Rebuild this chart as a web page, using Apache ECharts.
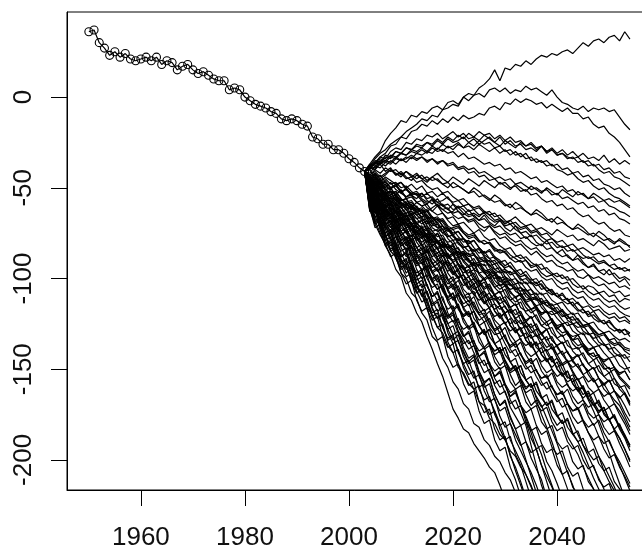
<!DOCTYPE html>
<html><head><meta charset="utf-8">
<script src="https://cdn.jsdelivr.net/npm/echarts@6/dist/echarts.min.js"></script>
<style>html,body{margin:0;padding:0;background:#fff}#c{width:642px;height:554px}</style>
</head><body><div id="c"></div>
<script>
// ---------- observed series (1950..2003) ----------
const histStartYear = 1950;
const histValues = [36,37,30,27,23,25,22,24,21,20, 21,22,20,22,18,20,19,15,17,18,
  15,13,14,12,10,9,9,4,5,4, 0,-2,-4,-5,-6,-8,-9,-12,-13,-12,
  -13,-15,-16,-22,-23,-26,-26,-29,-29,-31, -34,-36,-39,-41];

// ---------- simulated paths, yearly from 2003 ----------
const simStartYear = 2003;
const pathU1 = [-41,-37,-33,-30,-24,-20,-17,-13,-14,-10, -11,-8,-9,-6,-5,-7,-3,-2,-4,0, 2,1,5,7,10,15,9,16,15,18, 17,20,18,21,23,22,24,23,25,26, 24,27,30,28,31,32,30,33,34,31, 36,32];
const pathU2 = [-41,-38,-34,-31,-29,-26,-24,-22,-19,-17, -15,-12,-13,-10,-11,-7,-6,-4,-5,0, -2,1,2,0,4,5,3,5,2,4, 3,6,4,5,3,1,4,0,-3,-4, -6,-7,-5,-8,-6,-7,-6,-8,-7,-11, -15,-18];
const pathU3 = [-41,-39,-36,-33,-31,-27,-26,-22,-23,-19, -18,-15,-16,-13,-15,-12,-14,-11,-13,-10, -12,-11,-9,-10,-6,-5,-7,-3,-4,-1, -3,-1,-2,-4,-3,-6,-4,-6,-8,-6, -9,-9,-12,-11,-15,-17,-16,-20,-22,-25, -29,-33];
const pathU4 = [-41,-38,-37,-33,-34,-30,-28,-29,-25,-26, -23,-24,-21,-22,-20,-23,-21,-19,-22,-20, -23,-22,-24,-21,-23,-25,-22,-26,-24,-27, -26,-29,-28,-30,-27,-31,-29,-32,-31,-34, -33,-36,-35,-38,-37,-40,-42,-41,-44,-45, -47,-49];
const pathH1 = [-41,-40,-36,-37,-33,-34,-30,-31,-28,-29, -26,-27,-25,-27,-24,-26,-23,-25,-24,-22, -25,-23,-26,-24,-22,-25,-27,-24,-26,-28, -25,-27,-26,-29,-27,-30,-28,-31,-29,-32, -30,-33,-31,-34,-33,-35,-32,-36,-34,-37, -35,-37];
const pathH2 = [-41,-38,-39,-35,-36,-33,-34,-31,-32,-29, -30,-28,-30,-27,-29,-26,-28,-27,-25,-28, -27,-29,-26,-28,-30,-28,-31,-29,-32,-30, -33,-31,-35,-34,-36,-35,-38,-37,-40,-39, -42,-41,-44,-43,-46,-45,-48,-49,-51,-50, -53,-55];
const pathH3 = [-41,-42,-38,-39,-36,-37,-34,-35,-33,-34, -31,-32,-30,-31,-28,-30,-27,-29,-26,-28, -25,-27,-24,-26,-25,-28,-27,-30,-29,-32, -31,-34,-33,-36,-35,-38,-37,-40,-41,-43, -42,-45,-47,-46,-49,-51,-50,-53,-55,-56, -58,-60];
const pathH4 = [-41,-37,-38,-34,-35,-32,-33,-31,-32,-30, -31,-29,-31,-28,-30,-29,-31,-30,-33,-31, -34,-33,-35,-37,-36,-38,-37,-40,-39,-42, -41,-43,-45,-44,-47,-46,-48,-50,-49,-52, -51,-54,-53,-56,-55,-58,-57,-60,-61,-63, -64,-66];
const pathH5 = [-41,-39,-36,-37,-35,-36,-33,-35,-34,-32, -34,-33,-35,-34,-36,-35,-37,-36,-39,-38, -40,-39,-42,-41,-43,-45,-44,-46,-45,-48, -47,-49,-51,-50,-52,-51,-54,-53,-56,-55, -57,-59,-58,-61,-60,-63,-62,-65,-64,-67, -68,-70];
const pathH6 = [-41,-38,-35,-36,-32,-33,-30,-31,-28,-29, -27,-28,-25,-26,-23,-25,-22,-24,-21,-23, -20,-22,-19,-21,-20,-23,-21,-24,-22,-25, -24,-27,-25,-28,-27,-30,-29,-32,-31,-33, -34,-33,-36,-35,-38,-37,-40,-39,-42,-41, -44,-45];
const pathM1 = [-41,-39,-40,-36,-38,-35,-37,-34,-36,-33, -35,-33,-36,-34,-37,-35,-38,-37,-40,-39, -42,-41,-44,-43,-46,-45,-48,-47,-50,-49, -52,-51,-54,-53,-56,-58,-57,-60,-59,-62, -61,-64,-66,-65,-68,-70,-69,-72,-74,-73, -76,-77];
const pathM2 = [-41,-43,-40,-42,-39,-41,-40,-43,-41,-44, -42,-45,-44,-46,-45,-48,-47,-50,-49,-51, -53,-52,-55,-54,-56,-58,-57,-60,-59,-62, -61,-63,-65,-64,-66,-68,-67,-70,-69,-71, -73,-72,-74,-76,-75,-77,-79,-78,-80,-79, -81,-82];
const pathM3 = [-41,-45,-43,-47,-44,-46,-48,-47,-50,-48, -51,-49,-53,-52,-55,-53,-56,-58,-57,-60, -59,-62,-61,-64,-63,-66,-65,-68,-70,-69, -72,-71,-74,-73,-76,-75,-78,-80,-79,-82, -81,-84,-83,-85,-87,-86,-88,-87,-90,-89, -91,-89];
const pathM4 = [-41,-38,-40,-37,-41,-39,-43,-42,-45,-44, -47,-46,-49,-51,-50,-53,-52,-55,-57,-56, -59,-61,-60,-63,-65,-64,-67,-69,-68,-71, -73,-72,-75,-74,-77,-79,-78,-81,-83,-82, -85,-84,-87,-89,-88,-91,-90,-93,-92,-95, -94,-96];
const pathM5 = [-41,-44,-42,-46,-45,-48,-47,-50,-49,-52, -54,-53,-56,-55,-58,-60,-59,-62,-61,-64, -66,-65,-68,-67,-70,-72,-71,-74,-76,-75, -78,-77,-80,-82,-81,-84,-83,-86,-88,-87, -90,-89,-92,-94,-93,-96,-95,-98,-97,-100, -99,-101];
const pathM6 = [-41,-46,-44,-48,-47,-50,-49,-52,-51,-54, -53,-56,-58,-57,-60,-59,-62,-64,-63,-66, -68,-67,-70,-72,-71,-74,-76,-75,-78,-80, -79,-82,-84,-83,-86,-88,-87,-90,-92,-91, -94,-96,-95,-98,-100,-99,-101,-103,-102,-105, -104,-106];
const pathM7 = [-41,-43,-47,-45,-49,-51,-48,-52,-55,-53, -54,-57,-59,-56,-60,-62,-61,-65,-67,-66, -69,-68,-72,-74,-71,-75,-78,-77,-80,-82, -81,-84,-87,-85,-88,-91,-90,-93,-94,-96, -95,-99,-100,-98,-102,-104,-103,-106,-108,-107, -110,-109];
const pathM8 = [-41,-47,-45,-50,-48,-52,-54,-51,-56,-55, -58,-57,-61,-63,-60,-64,-67,-66,-70,-69, -72,-75,-73,-77,-79,-78,-82,-84,-83,-87, -89,-88,-91,-93,-92,-96,-98,-97,-100,-99, -103,-105,-104,-107,-109,-108,-111,-113,-112,-115, -117,-116];
const pathM9 = [-41,-44,-48,-46,-51,-53,-52,-56,-58,-57, -61,-63,-62,-66,-68,-67,-71,-73,-72,-75, -77,-76,-79,-81,-80,-83,-85,-84,-87,-89, -91,-90,-94,-93,-97,-99,-98,-101,-103,-102, -106,-108,-107,-110,-112,-111,-114,-116,-115,-118, -120,-121];
const pathM10 = [-41,-40,-45,-43,-47,-50,-48,-53,-55,-54, -58,-60,-59,-63,-65,-64,-68,-71,-70,-74, -76,-75,-79,-81,-80,-84,-86,-85,-89,-91, -90,-94,-96,-95,-99,-101,-100,-104,-106,-105, -109,-111,-110,-114,-116,-115,-118,-120,-119,-122, -121,-124];
const pathM11 = [-41,-46,-49,-47,-51,-54,-52,-56,-59,-58, -61,-64,-63,-67,-69,-68,-72,-75,-74,-78, -80,-79,-83,-86,-85,-89,-91,-90,-94,-96, -95,-99,-101,-100,-104,-107,-106,-110,-112,-111, -115,-118,-117,-121,-120,-123,-125,-124,-127,-129, -128,-130];
const pathM12 = [-41,-45,-43,-48,-51,-50,-54,-57,-56,-60, -62,-61,-65,-68,-67,-71,-74,-73,-77,-80, -79,-83,-86,-85,-89,-92,-91,-95,-97,-96, -100,-103,-102,-106,-109,-108,-112,-114,-113,-117, -120,-119,-123,-125,-124,-128,-130,-129,-132,-134, -133,-135];
const pathM13 = [-41,-48,-46,-51,-53,-52,-57,-59,-58,-62, -60,-64,-67,-66,-70,-73,-72,-76,-79,-78, -82,-85,-84,-88,-91,-90,-94,-97,-96,-100, -103,-102,-106,-109,-108,-112,-115,-114,-118,-120, -119,-123,-126,-125,-129,-131,-130,-134,-136,-135, -138,-139];
const pathM14 = [-41,-44,-49,-47,-52,-55,-54,-58,-60,-59, -63,-66,-65,-70,-72,-71,-76,-79,-78,-82, -85,-84,-88,-91,-90,-95,-97,-96,-100,-103, -102,-106,-109,-108,-113,-115,-114,-118,-121,-120, -125,-127,-126,-130,-133,-132,-136,-139,-138,-141, -144,-143];
const pathM15 = [-41,-47,-45,-50,-53,-52,-57,-59,-58,-63, -65,-64,-69,-71,-70,-75,-77,-76,-81,-83, -82,-87,-89,-88,-93,-95,-94,-99,-101,-100, -105,-107,-106,-111,-113,-112,-117,-119,-118,-123, -125,-124,-129,-131,-130,-135,-137,-136,-141,-143, -142,-146];
const pathM16 = [-41,-45,-50,-48,-54,-56,-55,-59,-62,-61, -65,-68,-67,-72,-74,-73,-78,-81,-80,-84, -87,-86,-91,-93,-92,-97,-100,-99,-103,-106, -105,-110,-112,-111,-116,-119,-118,-122,-125,-124, -129,-131,-130,-135,-138,-137,-141,-144,-143,-148, -150,-149];
const pathM17 = [-41,-49,-47,-52,-55,-54,-59,-61,-60,-65, -67,-66,-71,-74,-73,-78,-80,-79,-84,-87, -86,-91,-93,-92,-97,-100,-99,-104,-106,-105, -110,-113,-112,-117,-119,-118,-123,-126,-125,-130, -132,-131,-136,-139,-138,-143,-145,-144,-149,-152, -151,-156];
const pathM18 = [-41,-46,-51,-49,-55,-58,-56,-61,-64,-63, -67,-70,-68,-74,-77,-76,-81,-84,-83,-88, -91,-89,-94,-97,-96,-101,-104,-103,-108,-110, -109,-114,-117,-116,-121,-124,-122,-127,-130,-129, -134,-137,-136,-141,-143,-142,-147,-150,-149,-154, -157,-160];
const pathM19 = [-41,-50,-48,-54,-57,-55,-61,-63,-62,-67, -69,-68,-73,-77,-75,-81,-84,-82,-88,-90, -89,-95,-97,-96,-101,-105,-103,-109,-112,-110, -116,-118,-117,-122,-126,-124,-130,-133,-131,-137, -139,-138,-143,-147,-145,-151,-154,-152,-158,-160, -159,-165];
const pathM20 = [-41,-47,-52,-50,-56,-59,-57,-63,-66,-64, -70,-72,-71,-76,-80,-78,-84,-86,-85,-91, -94,-92,-98,-101,-99,-105,-108,-106,-112,-115, -113,-119,-122,-120,-126,-128,-127,-133,-136,-134, -140,-143,-141,-147,-150,-148,-154,-157,-155,-161, -164,-170];
const pathM21 = [-41,-51,-49,-55,-58,-57,-63,-65,-64,-70, -72,-71,-77,-80,-79,-85,-88,-86,-92,-95, -93,-99,-102,-100,-106,-109,-107,-113,-116,-114, -120,-123,-121,-127,-130,-128,-134,-137,-135,-141, -144,-142,-148,-151,-149,-155,-158,-156,-162,-165, -170,-176];
const pathM22 = [-41,-48,-54,-52,-58,-61,-59,-65,-68,-66, -72,-75,-73,-79,-83,-81,-87,-90,-88,-94, -97,-95,-101,-105,-103,-109,-112,-110,-116,-120, -118,-124,-127,-125,-131,-134,-132,-138,-142,-140, -146,-149,-147,-153,-157,-155,-161,-164,-162,-168, -174,-179];
const pathM23 = [-41,-52,-50,-56,-60,-58,-64,-67,-65,-71, -74,-72,-78,-82,-80,-86,-89,-87,-93,-97, -95,-101,-104,-102,-108,-112,-110,-116,-119,-117, -123,-127,-125,-131,-134,-132,-138,-142,-140,-146, -149,-147,-153,-157,-155,-161,-165,-163,-169,-173, -178,-184];
const pathM24 = [-41,-49,-55,-53,-59,-63,-61,-67,-71,-69, -75,-78,-76,-83,-86,-84,-90,-94,-92,-98, -102,-100,-106,-110,-108,-114,-117,-115,-121,-125, -123,-129,-133,-131,-137,-140,-138,-144,-148,-146, -152,-156,-154,-160,-163,-161,-167,-171,-169,-175, -180,-186];
const pathM25 = [-41,-53,-51,-58,-61,-59,-66,-69,-67,-73, -77,-75,-81,-85,-83,-90,-93,-91,-97,-101, -99,-105,-109,-107,-114,-117,-115,-121,-125,-123, -129,-133,-131,-138,-141,-139,-145,-149,-147,-154, -157,-155,-161,-165,-163,-170,-173,-171,-177,-181, -186,-192];
const pathM26 = [-41,-50,-56,-54,-61,-65,-62,-69,-72,-70, -77,-80,-78,-85,-88,-86,-93,-97,-95,-101, -105,-103,-109,-113,-111,-118,-121,-119,-126,-129, -127,-134,-137,-135,-142,-145,-143,-150,-153,-151, -158,-162,-160,-166,-170,-168,-175,-178,-176,-183, -188,-195];
const pathM27 = [-41,-54,-52,-59,-63,-61,-68,-71,-69,-75, -79,-77,-84,-88,-86,-92,-96,-94,-100,-104, -102,-109,-112,-110,-117,-121,-119,-125,-129,-127, -134,-137,-135,-142,-146,-144,-150,-154,-152,-159, -162,-160,-167,-171,-169,-175,-179,-177,-184,-188, -194,-200];
const pathM28 = [-41,-51,-58,-56,-63,-67,-65,-72,-75,-73, -80,-84,-82,-89,-92,-90,-97,-101,-99,-106, -109,-107,-114,-118,-116,-123,-126,-124,-131,-135, -133,-140,-143,-141,-148,-152,-150,-157,-160,-158, -165,-169,-167,-174,-177,-175,-182,-186,-184,-191, -197,-204];
const pathS1 = [-41,-55,-53,-61,-65,-63,-70,-74,-72,-79, -83,-81,-88,-92,-90,-97,-101,-99,-106,-110, -108,-115,-119,-117,-124,-128,-126,-133,-137,-135, -142,-146,-144,-151,-155,-153,-160,-164,-162,-169, -173,-171,-178,-182,-180,-187,-191,-189,-196,-201, -207,-213];
const pathS2 = [-41,-52,-59,-57,-64,-69,-66,-74,-78,-76, -83,-87,-85,-92,-96,-94,-101,-106,-104,-111, -115,-113,-120,-124,-122,-129,-134,-131,-139,-143, -141,-148,-152,-150,-157,-161,-159,-166,-171,-169, -176,-180,-178,-185,-189,-187,-194,-199,-197,-204, -209,-215];
const pathS3 = [-41,-56,-54,-62,-67,-64,-72,-76,-74,-82, -86,-84,-92,-96,-94,-102,-106,-104,-112,-116, -114,-122,-126,-124,-132,-136,-134,-142,-146,-144, -152,-156,-154,-162,-166,-164,-172,-176,-174,-182, -186,-184,-192,-196,-194,-202,-206,-204,-212,-216, -221];
const pathS4 = [-41,-53,-60,-58,-66,-70,-68,-76,-80,-78, -86,-90,-88,-96,-100,-98,-106,-111,-108,-116, -120,-118,-126,-130,-128,-136,-140,-138,-146,-150, -148,-156,-160,-158,-166,-170,-168,-176,-180,-178, -186,-190,-188,-196,-200,-198,-206,-212,-217,-222];
const pathS5 = [-41,-57,-55,-64,-68,-66,-74,-79,-77,-85, -89,-87,-95,-100,-98,-106,-110,-108,-116,-121, -119,-127,-131,-129,-137,-142,-140,-148,-152,-150, -158,-163,-161,-169,-173,-171,-179,-184,-182,-190, -194,-192,-200,-205,-203,-211,-215,-213,-221];
const pathS6 = [-41,-54,-62,-60,-69,-74,-71,-80,-84,-82, -91,-95,-93,-102,-106,-104,-113,-118,-115,-124, -128,-126,-135,-139,-137,-146,-150,-148,-157,-161, -159,-168,-172,-170,-179,-183,-181,-190,-194,-192, -201,-205,-203,-212,-216,-222];
const pathS7 = [-41,-58,-56,-65,-70,-68,-77,-82,-80,-89, -93,-91,-100,-105,-103,-112,-117,-115,-124,-128, -126,-135,-140,-138,-147,-151,-149,-158,-163,-161, -170,-174,-172,-181,-186,-184,-193,-197,-195,-204, -209,-207,-216,-222];
const pathS8 = [-41,-55,-64,-62,-71,-76,-74,-83,-88,-86, -95,-100,-98,-107,-112,-110,-119,-124,-122,-131, -136,-134,-143,-148,-146,-155,-160,-158,-167,-172, -170,-179,-184,-182,-191,-196,-194,-203,-208,-206, -215,-219,-224];
const pathS9 = [-41,-60,-58,-67,-73,-71,-80,-85,-83,-92, -97,-95,-104,-110,-108,-117,-122,-120,-129,-134, -139,-137,-146,-152,-150,-159,-164,-162,-171,-176, -181,-179,-188,-194,-192,-201,-206,-213,-221];
const pathS10 = [-41,-56,-66,-64,-73,-79,-77,-86,-92,-90, -99,-105,-103,-112,-118,-116,-125,-131,-129,-138, -144,-142,-151,-157,-155,-164,-170,-168,-177,-183, -181,-190,-196,-194,-203,-209,-215,-222];
const pathS11 = [-41,-61,-59,-69,-75,-73,-82,-88,-86,-95, -101,-99,-109,-115,-113,-122,-128,-126,-135,-141, -147,-145,-154,-160,-158,-167,-173,-171,-180,-186, -192,-190,-199,-205,-211,-221];
const pathS12 = [-41,-58,-68,-66,-76,-82,-80,-89,-95,-93, -103,-109,-107,-117,-122,-120,-130,-136,-134,-143, -149,-155,-153,-162,-168,-166,-176,-182,-180,-189, -195,-201,-207,-214,-222];
const pathS13 = [-41,-62,-60,-71,-77,-75,-85,-91,-89,-99, -105,-103,-113,-119,-117,-127,-133,-131,-141,-147, -153,-151,-161,-167,-165,-175,-181,-179,-189,-195, -201,-208,-214,-222];
const pathS14 = [-41,-60,-70,-68,-79,-85,-83,-93,-99,-97, -107,-113,-111,-121,-127,-125,-135,-141,-139,-149, -155,-161,-159,-169,-175,-173,-183,-189,-187,-197, -203,-212,-221];
const pathS15 = [-41,-49,-56,-65,-71,-78,-83,-90,-93,-100, -105,-109,-116,-120,-127,-130,-137,-141,-149,-152, -158,-161,-168,-170,-177,-180,-186,-189,-195,-198, -204,-208,-215,-221];
const pathS16 = [-41,-51,-59,-69,-75,-85,-88,-97,-100,-108, -111,-119,-123,-132,-135,-144,-149,-157,-161,-169, -172,-180,-182,-189,-192,-198,-201,-207,-211,-218, -222];
const pathS17 = [-41,-53,-62,-73,-82,-87,-95,-99,-108,-112, -119,-124,-132,-139,-147,-154,-163,-172,-177,-183, -185,-191,-195,-199,-204,-207,-214,-222];
const pathS18 = [-41,-63,-62,-73,-79,-77,-88,-94,-92,-102, -108,-106,-117,-123,-121,-132,-138,-136,-147,-153, -159,-157,-168,-174,-172,-183,-189,-187,-198,-204, -212,-221];
const pathS19 = [-41,-61,-72,-70,-81,-88,-86,-97,-103,-101, -112,-118,-116,-127,-134,-132,-143,-149,-147,-158, -164,-162,-173,-180,-178,-189,-195,-193,-204,-211, -220];
const pathR1 = [-41,-47,-52,-50,-55,-58,-56,-60,-59,-61, -58,-60,-63,-61,-59,-62,-64,-63,-60,-62, -65,-64,-66,-63,-65,-68,-67,-70,-68,-66, -69,-71,-70,-73,-72,-74,-76,-73,-75,-77, -76,-79,-78,-80,-82,-79,-81,-84,-83,-82, -85,-84];
const pathR2 = [-41,-44,-46,-51,-54,-52,-53,-58,-61,-60, -62,-64,-63,-67,-66,-69,-73,-72,-71,-75, -78,-77,-80,-79,-81,-85,-84,-86,-89,-88, -87,-90,-93,-92,-95,-94,-97,-99,-98,-101, -100,-103,-106,-104,-105,-108,-107,-110,-109,-113, -111,-112];
const pathR3 = [-41,-55,-58,-63,-61,-66,-69,-68,-72,-71, -74,-77,-76,-80,-79,-83,-82,-86,-88,-87, -90,-93,-92,-96,-95,-98,-102,-100,-103,-106, -105,-108,-111,-110,-114,-113,-116,-119,-117,-121, -123,-122,-126,-125,-128,-131,-130,-134,-133,-137, -139,-140];
const pathR4 = [-41,-45,-44,-49,-51,-50,-55,-57,-56,-61, -63,-62,-67,-70,-69,-73,-77,-76,-80,-83, -82,-87,-90,-89,-94,-97,-96,-101,-104,-103, -108,-112,-111,-116,-119,-118,-123,-127,-126,-131, -134,-133,-138,-142,-141,-146,-150,-149,-155,-159, -163,-168];
const pathR5 = [-41,-52,-56,-60,-65,-63,-68,-70,-69,-73, -76,-74,-78,-77,-81,-80,-83,-82,-86,-85, -88,-87,-91,-90,-93,-92,-96,-95,-98,-97, -101,-100,-103,-102,-106,-105,-108,-110,-109,-112, -111,-114,-116,-115,-118,-117,-120,-122,-121,-124, -123,-125];
const pathR6 = [-41,-49,-53,-57,-55,-61,-64,-63,-67,-70, -69,-73,-76,-75,-79,-82,-81,-84,-87,-86, -90,-93,-92,-96,-98,-97,-101,-104,-103,-107, -109,-108,-112,-115,-114,-118,-120,-119,-123,-126, -125,-129,-131,-130,-134,-137,-136,-140,-143,-142, -147,-152];
const pathR7 = [-41,-54,-59,-64,-62,-68,-72,-70,-75,-79, -77,-82,-86,-84,-89,-93,-91,-96,-99,-98, -102,-106,-104,-109,-112,-111,-115,-119,-117,-122, -125,-124,-128,-132,-130,-135,-139,-137,-142,-146, -145,-149,-153,-151,-156,-160,-158,-163,-167,-170, -176,-182];
const pathR8 = [-41,-50,-57,-61,-66,-64,-71,-76,-74,-80, -85,-83,-89,-94,-92,-98,-103,-101,-107,-111, -110,-116,-120,-119,-125,-129,-127,-133,-138,-136, -142,-147,-145,-151,-155,-154,-160,-164,-163,-169, -173,-172,-179,-185,-191,-198,-203,-209,-215,-222];
const pathR9 = [-41,-57,-62,-67,-72,-70,-77,-82,-80,-87, -92,-90,-97,-102,-100,-107,-112,-110,-117,-121, -119,-126,-131,-129,-136,-140,-138,-145,-150,-148, -155,-160,-158,-165,-170,-177,-184,-191,-199,-207, -214,-222];
const pathR10 = [-41,-60,-66,-72,-77,-75,-82,-88,-86,-93, -99,-97,-104,-110,-108,-115,-121,-119,-126,-132, -130,-137,-143,-141,-148,-154,-152,-159,-165,-163, -170,-176,-183,-190,-197,-206,-214,-222];
const pathR11 = [-41,-53,-60,-65,-70,-68,-74,-79,-77,-83, -88,-86,-92,-97,-95,-101,-105,-103,-109,-114, -112,-118,-123,-121,-127,-131,-130,-136,-141,-139, -145,-150,-148,-154,-159,-157,-163,-168,-166,-173, -180,-186,-192,-198,-204,-210,-216,-223];
const pathR12 = [-41,-48,-53,-58,-56,-62,-66,-64,-69,-73, -71,-76,-80,-78,-84,-88,-86,-91,-95,-93, -99,-103,-101,-107,-111,-109,-115,-119,-117,-123, -128,-126,-132,-137,-135,-141,-146,-144,-150,-155, -153,-159,-164,-162,-168,-173,-171,-178,-183,-188, -194,-201];
const pathR13 = [-41,-58,-68,-75,-82,-80,-89,-95,-93,-101, -108,-106,-114,-121,-119,-127,-134,-132,-140,-147, -145,-153,-160,-158,-166,-173,-180,-188,-197,-206, -214,-222];
const pathR14 = [-41,-62,-70,-76,-81,-79,-86,-92,-90,-97, -103,-101,-108,-114,-112,-119,-125,-123,-130,-136, -134,-141,-147,-145,-152,-158,-156,-163,-169,-167, -174,-181,-192,-203,-214,-222];
const pathR15 = [-41,-46,-44,-48,-46,-50,-49,-47,-51,-53, -52,-55,-53,-56,-58,-57,-55,-59,-61,-60, -63,-62,-65,-64,-67,-69,-68,-71,-70,-73, -75,-74,-77,-76,-79,-81,-80,-83,-82,-85, -84,-87,-89,-88,-90,-92,-91,-93,-95,-94, -96,-95];
const pathR16 = [-41,-44,-42,-45,-43,-40,-42,-44,-41,-43, -45,-43,-46,-44,-42,-45,-47,-44,-46,-48, -45,-47,-49,-46,-48,-50,-47,-49,-51,-48, -50,-52,-49,-51,-53,-50,-52,-54,-51,-53, -55,-52,-54,-56,-53,-55,-57,-56,-58,-57, -59,-61];
const pathR17 = [-41,-49,-55,-53,-59,-62,-60,-66,-69,-67, -73,-77,-75,-81,-84,-82,-88,-91,-89,-95, -99,-97,-103,-106,-104,-110,-114,-112,-118,-122, -120,-126,-130,-128,-134,-138,-136,-142,-147,-145, -151,-156,-161,-167,-173,-180,-188,-196,-205,-213, -221];
const pathR18 = [-41,-47,-50,-54,-52,-57,-60,-58,-62,-65, -63,-67,-70,-68,-72,-75,-73,-77,-79,-78, -82,-85,-83,-87,-89,-88,-92,-94,-93,-97, -99,-98,-102,-104,-103,-107,-109,-108,-112,-114, -113,-117,-119,-118,-122,-124,-123,-127,-129,-128, -131,-130];
const pathT1 = [-41,-50,-47,-55,-53,-58,-63,-60,-66,-64, -70,-68,-74,-79,-75,-80,-83,-81,-87,-85, -90,-95,-92,-97,-100,-98,-104,-102,-107,-111, -108,-113,-117,-115,-120,-118,-124,-128,-125,-130, -134,-131,-136,-140,-138,-143,-146,-144,-149,-153, -151,-156];
const pathT2 = [-41,-56,-53,-60,-64,-62,-69,-66,-73,-77, -74,-81,-85,-82,-89,-92,-90,-97,-100,-98, -105,-109,-106,-113,-116,-114,-121,-125,-122,-129, -132,-130,-137,-141,-138,-145,-149,-146,-153,-157, -155,-162,-166,-163,-170,-174,-171,-178,-183,-180, -187,-192];
const pathT3 = [-41,-59,-57,-65,-71,-68,-76,-81,-78,-86, -91,-88,-96,-101,-98,-106,-111,-108,-116,-120, -118,-126,-131,-128,-136,-140,-138,-146,-151,-148, -156,-161,-158,-166,-171,-168,-176,-181,-178,-187, -192,-197,-204,-210,-216,-223];
const pathT4 = [-41,-48,-52,-49,-54,-57,-55,-59,-62,-60, -64,-62,-66,-69,-67,-71,-73,-76,-74,-78, -81,-79,-83,-86,-84,-88,-90,-93,-91,-95, -98,-96,-100,-103,-101,-105,-107,-110,-108,-112, -115,-113,-117,-120,-118,-122,-125,-123,-127,-130, -128,-132];
const pathT5 = [-41,-53,-50,-57,-61,-58,-64,-68,-65,-71, -75,-72,-78,-82,-79,-85,-88,-86,-92,-95, -93,-99,-103,-100,-106,-109,-107,-113,-116,-114, -120,-124,-121,-127,-131,-128,-134,-137,-135,-141, -145,-142,-148,-151,-149,-155,-159,-156,-162,-166, -163,-169];
const pathT6 = [-41,-55,-60,-58,-65,-70,-67,-74,-79,-76, -83,-87,-84,-91,-96,-93,-100,-104,-101,-108, -113,-110,-117,-121,-118,-125,-130,-127,-134,-138, -135,-142,-147,-144,-151,-155,-152,-159,-164,-161, -168,-172,-169,-176,-181,-178,-185,-190,-196,-203, -210,-217];
const pathT7 = [-41,-63,-61,-70,-77,-74,-82,-88,-85,-93, -99,-96,-104,-110,-107,-115,-121,-118,-126,-132, -129,-137,-143,-140,-148,-154,-151,-159,-165,-162, -170,-177,-185,-194,-203,-212,-221];
const pathT8 = [-41,-45,-48,-46,-50,-47,-51,-53,-50,-54, -56,-53,-57,-59,-56,-60,-62,-59,-63,-65, -62,-66,-68,-65,-69,-71,-68,-72,-74,-71, -75,-78,-76,-80,-82,-79,-83,-86,-84,-88, -90,-87,-91,-94,-92,-96,-98,-95,-99,-102, -100,-104];
const pathT9 = [-41,-51,-57,-54,-62,-66,-63,-70,-74,-71, -78,-82,-79,-86,-90,-87,-94,-98,-95,-102, -106,-103,-110,-114,-111,-118,-122,-119,-126,-130, -127,-134,-138,-135,-142,-146,-143,-150,-154,-151, -158,-162,-159,-166,-170,-167,-174,-178,-175,-182, -187,-193];
const pathT10 = [-41,-57,-64,-61,-69,-75,-72,-80,-85,-82, -90,-96,-93,-101,-106,-103,-111,-117,-114,-122, -127,-124,-132,-138,-135,-143,-148,-145,-153,-159, -156,-164,-170,-167,-175,-182,-190,-199,-208,-216, -223];
const pathT11 = [-41,-54,-58,-62,-60,-65,-68,-66,-70,-73, -71,-75,-78,-76,-80,-83,-81,-85,-87,-86, -90,-92,-91,-95,-97,-96,-100,-102,-101,-105, -107,-106,-110,-112,-111,-115,-117,-116,-120,-122, -121,-125,-127,-126,-130,-132,-131,-135,-137,-136, -140,-142];
const pathT12 = [-41,-52,-61,-58,-67,-72,-69,-77,-82,-79, -87,-92,-89,-97,-102,-99,-107,-112,-109,-117, -121,-118,-126,-131,-128,-136,-141,-138,-146,-151, -148,-156,-160,-157,-165,-170,-167,-175,-180,-177, -185,-190,-196,-203,-210,-216,-223];
const pathT13 = [-41,-43,-41,-44,-42,-40,-43,-41,-44,-46, -43,-45,-47,-44,-46,-48,-50,-47,-49,-51, -53,-50,-52,-55,-57,-54,-56,-59,-61,-58, -60,-63,-65,-62,-64,-67,-69,-66,-68,-71, -73,-70,-72,-75,-77,-74,-76,-79,-81,-78, -80,-83];
const pathT14 = [-41,-60,-69,-67,-77,-84,-81,-90,-97,-94, -103,-110,-107,-116,-122,-119,-128,-134,-131,-140, -146,-143,-152,-158,-155,-164,-170,-167,-176,-183, -191,-200,-209,-218,-224];
const pathT15 = [-41,-49,-53,-51,-57,-60,-58,-64,-67,-65, -71,-74,-72,-77,-80,-78,-84,-87,-85,-90, -93,-91,-97,-100,-98,-103,-106,-104,-110,-113, -111,-116,-119,-117,-123,-126,-124,-129,-132,-130, -136,-139,-137,-142,-145,-143,-149,-152,-150,-155, -158,-161];

// ---------- axis ticks ----------
const xTickLabels = [1960, 1980, 2000, 2020, 2040];
const yTickLabels = [-200, -150, -100, -50, 0];

const simPaths = [pathU1,pathU2,pathU3,pathU4,pathH1,pathH2,pathH3,pathH4,pathH5,pathH6,
  pathM1,pathM2,pathM3,pathM4,pathM5,pathM6,pathM7,pathM8,pathM9,pathM10,pathM11,pathM12,pathM13,pathM14,
  pathM15,pathM16,pathM17,pathM18,pathM19,pathM20,pathM21,pathM22,pathM23,pathM24,pathM25,pathM26,pathM27,pathM28,
  pathS1,pathS2,pathS3,pathS4,pathS5,pathS6,pathS7,pathS8,pathS9,pathS10,pathS11,pathS12,pathS13,pathS14,
  pathS15,pathS16,pathS17,pathS18,pathS19,
  pathR1,pathR2,pathR3,pathR4,pathR5,pathR6,pathR7,pathR8,pathR9,pathR10,pathR11,pathR12,pathR13,pathR14,
  pathR15,pathR16,pathR17,pathR18,
  pathT1,pathT2,pathT3,pathT4,pathT5,pathT6,pathT7,pathT8,pathT9,pathT10,pathT11,pathT12,pathT13,pathT14,pathT15];

const FONT = "'Liberation Sans', Arial, sans-serif";
const series = [];
simPaths.forEach(p => {
  series.push({
    type: 'line', silent: true, symbol: 'none', showSymbol: false, clip: true,
    lineStyle: { color: '#000', width: 1.2 },
    data: p.map((v, i) => [simStartYear + i, v])
  });
});
series.push({
  type: 'line', silent: true, symbol: 'circle', symbolSize: 8, clip: true,
  lineStyle: { color: '#000', width: 1.2 },
  itemStyle: { color: 'rgba(0,0,0,0)', borderColor: '#000', borderWidth: 1.1 },
  data: histValues.map((v, i) => [histStartYear + i, v]),
  z: 3
});

const chart = echarts.init(document.getElementById('c'), null, { renderer: 'canvas' });
chart.setOption({
  animation: false,
  backgroundColor: '#fff',
  grid: { left: 67, top: 12, width: 590, height: 478, containLabel: false, outerBoundsMode: 'none',
          show: true, borderColor: '#000', borderWidth: 1, backgroundColor: 'transparent' },
  xAxis: {
    type: 'value', min: 1945.8, max: 2059.2,
    axisLine: { show: true, onZero: false, lineStyle: { color: '#000', width: 1 } },
    axisTick: { show: true, length: 16, customValues: xTickLabels, lineStyle: { color: '#000' } },
    axisLabel: { customValues: xTickLabels, formatter: v => String(v), fontSize: 26, fontFamily: FONT, color: '#111', margin: 35 },
    splitLine: { show: false }
  },
  yAxis: {
    type: 'value', min: -216.6, max: 46.9,
    axisLine: { show: true, onZero: false, lineStyle: { color: '#000', width: 1 } },
    axisTick: { show: true, length: 16, customValues: yTickLabels, lineStyle: { color: '#000' } },
    axisLabel: { customValues: yTickLabels, formatter: v => String(v), fontSize: 26, fontFamily: FONT, color: '#111', margin: 30, rotate: 90 },
    splitLine: { show: false }
  },
  series: series
});
</script>
</body></html>
